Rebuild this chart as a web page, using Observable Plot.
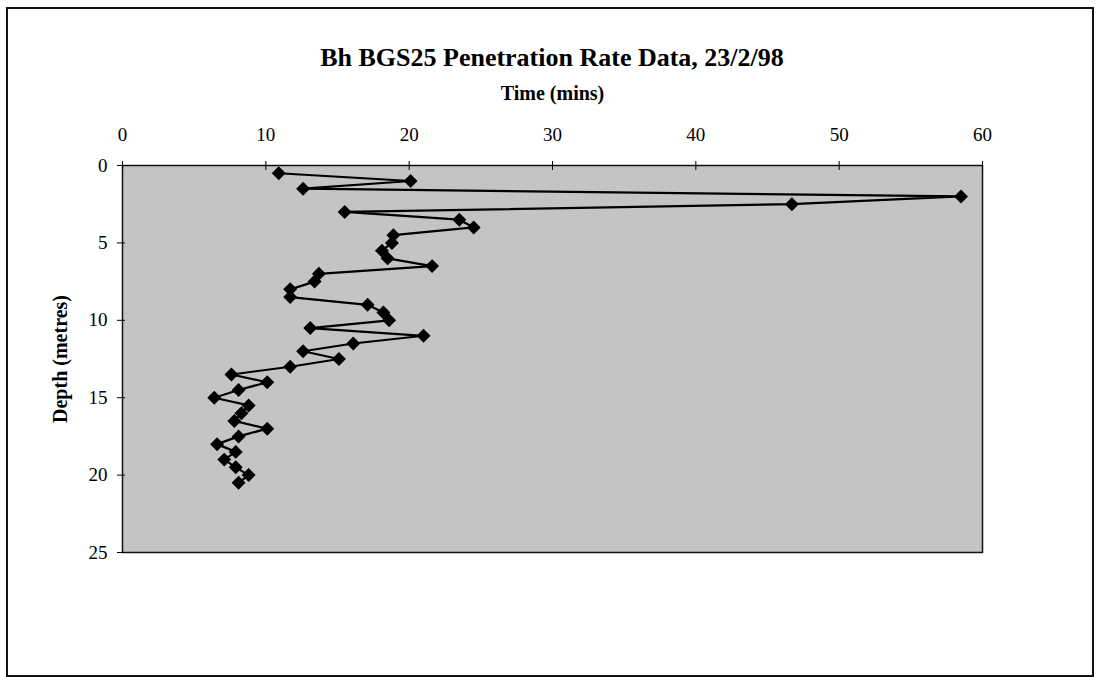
<!DOCTYPE html>
<html>
<head>
<meta charset="utf-8">
<script src="https://cdn.jsdelivr.net/npm/d3@7"></script>
<script src="https://cdn.jsdelivr.net/npm/@observablehq/plot@0.6"></script>
<style>
  html, body { margin: 0; padding: 0; background: #fff; }
  #wrap { position: relative; width: 1098px; height: 677px; overflow: hidden; }
  #border { position: absolute; left: 6px; top: 7px; width: 1084px; height: 666px; border: 2px solid #111; }
  #title { position: absolute; left: 122px; width: 860px; top: 43px; text-align: center;
           font-family: "Liberation Serif", serif; font-weight: bold; font-size: 26px; line-height: 30px; color: #000; }
  #chart { position: absolute; left: 0; top: 0; }
</style>
</head>
<body>
<div id="wrap">
  <div id="border"></div>
  <div id="chart"></div>
  <div id="title">Bh BGS25 Penetration Rate Data, 23/2/98</div>
</div>
<script>
// Depth (metres) of each reading
const depths = [0.5, 1.0, 1.5, 2.0, 2.5, 3.0, 3.5, 4.0, 4.5, 5.0,
                5.5, 6.0, 6.5, 7.0, 7.5, 8.0, 8.5, 9.0, 9.5, 10.0,
                10.5, 11.0, 11.5, 12.0, 12.5, 13.0, 13.5, 14.0, 14.5, 15.0,
                15.5, 16.0, 16.5, 17.0, 17.5, 18.0, 18.5, 19.0, 19.5, 20.0, 20.5];
// Time (mins) for each depth step
const times = [10.9, 20.1, 12.6, 58.5, 46.7, 15.5, 23.5, 24.5, 18.9, 18.8,
               18.1, 18.5, 21.6, 13.7, 13.4, 11.7, 11.7, 17.1, 18.2, 18.6,
               13.1, 21.0, 16.1, 12.6, 15.1, 11.7, 7.6, 10.1, 8.1, 6.4,
               8.8, 8.3, 7.8, 10.1, 8.1, 6.6, 7.9, 7.1, 7.9, 8.8, 8.1];
const xTicks = [0, 10, 20, 30, 40, 50, 60];
const yTicks = [0, 5, 10, 15, 20, 25];
const xLabel = "Time (mins)";
const yLabel = "Depth (metres)";

const data = depths.map((d, i) => ({depth: d, time: times[i]}));

const chart = Plot.plot({
  width: 1098,
  height: 677,
  marginLeft: 122,
  marginRight: 116,
  marginTop: 165,
  marginBottom: 125,
  style: {fontFamily: "'Liberation Serif', serif", fontSize: "19px", color: "#000", background: "transparent"},
  x: {domain: [0, 60]},
  y: {domain: [0, 25], reverse: true},
  marks: [
    Plot.frame({fill: "#c4c4c4", stroke: "none"}),
    Plot.frame({stroke: "#111", strokeWidth: 1.5}),
    Plot.axisX({anchor: "top", ticks: xTicks, tickSize: 5, tickPadding: 20, label: null, fontSize: 19, tickFormat: d => String(d)}),
    Plot.axisX({anchor: "top", ticks: xTicks, tickSize: -4, text: null, label: null}),
    Plot.axisY({anchor: "left", ticks: yTicks, tickSize: 5, tickPadding: 10, label: null, fontSize: 19, tickFormat: d => String(d)}),
    Plot.axisY({anchor: "left", ticks: yTicks, tickSize: -3, text: null, label: null}),
    Plot.text([xLabel], {text: d => d, frameAnchor: "top", lineAnchor: "middle", textAnchor: "middle", dy: -72, fontWeight: "bold", fontSize: 20}),
    Plot.text([yLabel], {text: d => d, frameAnchor: "left", lineAnchor: "middle", textAnchor: "middle", dx: -62, rotate: -90, fontWeight: "bold", fontSize: 20}),
    Plot.line(data, {x: "time", y: "depth", stroke: "#000", strokeWidth: 2.2}),
    Plot.dot(data, {x: "time", y: "depth", symbol: "diamond2", r: 6.3, fill: "#000", stroke: "none"})
  ]
});
document.getElementById("chart").appendChild(chart);
</script>
</body>
</html>
